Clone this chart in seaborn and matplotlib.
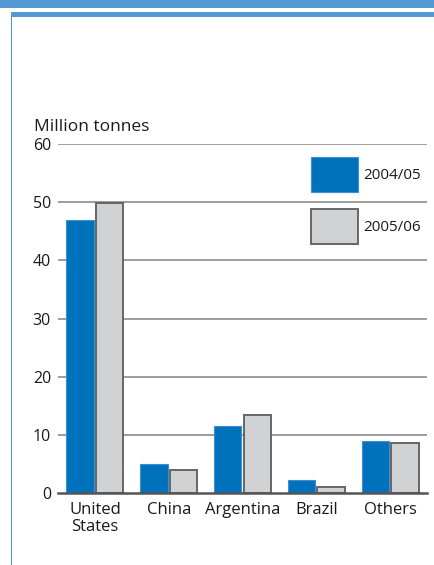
import matplotlib
matplotlib.use("Agg")
import matplotlib.pyplot as plt
from matplotlib.patches import Rectangle, Patch
import pandas as pd
import seaborn as sns

# Production by origin, million tonnes
countries = ["United\nStates", "China", "Argentina", "Brazil", "Others"]
seasons = ["2004/05", "2005/06"]
values_0405 = [47.0, 5.1, 11.6, 2.2, 9.0]
values_0506 = [49.8, 4.0, 13.4, 1.1, 8.7]
y_ticks = [0, 10, 20, 30, 40, 50, 60]

BLUE = "#0072bc"
BLUE_EDGE = "#3d8fd0"
GREY = "#d1d2d4"
GREY_EDGE = "#666666"
FRAME = "#5499d3"
TEXT = "#1a1a1a"

df = pd.DataFrame({
    "country": countries * 2,
    "season": [seasons[0]] * len(countries) + [seasons[1]] * len(countries),
    "value": values_0405 + values_0506,
})

sns.set_theme(style="white")
plt.rcParams["font.family"] = ["Open Sans", "DejaVu Sans"]

W, H = 435, 565
fig = plt.figure(figsize=(W / 100, H / 100), dpi=100)
ax = fig.add_axes([58 / W, 1 - 493.3 / H, 369 / W, (493.3 - 144) / H])

sns.barplot(data=df, x="country", y="value", hue="season", order=countries,
            hue_order=seasons, palette={seasons[0]: BLUE, seasons[1]: GREY},
            saturation=1, width=0.8, gap=0.07, legend=False, ax=ax, zorder=3)

# first hue level comes first in the patch list
n = len(countries)
for i, bar in enumerate(ax.patches):
    if i < n:
        bar.set_edgecolor(BLUE_EDGE)
        bar.set_linewidth(0.8)
    else:
        bar.set_edgecolor(GREY_EDGE)
        bar.set_linewidth(1.4)

ax.set_xlim(-0.5, 4.5)
ax.set_ylim(0, 60)
ax.set_yticks(y_ticks)
ax.set_xlabel("")
ax.set_ylabel("")
for s in ["left", "right", "top"]:
    ax.spines[s].set_visible(False)
ax.spines["bottom"].set_color("#555555")
ax.spines["bottom"].set_linewidth(1.8)
ax.spines["bottom"].set_zorder(5)
for yv in y_ticks[1:]:
    ax.axhline(yv, color="#8c8c8c", lw=1.2, zorder=1)
ax.tick_params(axis="both", length=0, colors=TEXT)
ax.tick_params(axis="y", pad=5, labelsize=11.5)
ax.tick_params(axis="x", pad=6, labelsize=12)
for lbl in ax.get_xticklabels():
    lbl.set_linespacing(1.12)

fig.text(34 / W, 1 - 131 / H, "Million tonnes", fontsize=12.5, color=TEXT,
         ha="left", va="baseline")

# legend: 47x35 px swatches with a 17 px gap between them
leg_fs = 11
fs_px = leg_fs * 100 / 72
hh = (35 / fs_px - 0.245) / 0.65
handles = [Patch(facecolor=BLUE, edgecolor=BLUE_EDGE, lw=0.8),
           Patch(facecolor=GREY, edgecolor=GREY_EDGE, lw=1.4)]
ax.legend(handles, seasons, loc="upper left",
          bbox_to_anchor=(311 / W, 1 - 157 / H),
          bbox_transform=fig.transFigure,
          frameon=False, borderpad=0, borderaxespad=0, fontsize=leg_fs,
          handlelength=47 / fs_px, handleheight=hh, handletextpad=0.35,
          labelspacing=17 / fs_px, labelcolor=TEXT)

# page frame: top band, rule below it, and left rule
fig.patches.append(Rectangle((0, 1 - 8 / H), 1, 8 / H, transform=fig.transFigure,
                             facecolor=FRAME, edgecolor="none"))
fig.patches.append(Rectangle((11 / W, 1 - 16.7 / H), 1 - 11 / W, 4.7 / H,
                             transform=fig.transFigure, facecolor=FRAME, edgecolor="none"))
fig.patches.append(Rectangle((11 / W, 0), 1.3 / W, 1 - 12 / H, transform=fig.transFigure,
                             facecolor=FRAME, edgecolor="none"))

fig.savefig("out.png", dpi=100)
